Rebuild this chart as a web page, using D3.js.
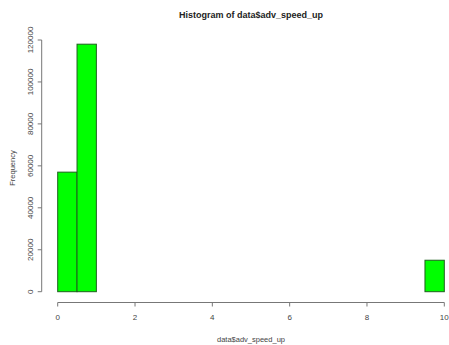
<!DOCTYPE html>
<html>
<head>
<meta charset="utf-8">
<script src="https://cdn.jsdelivr.net/npm/d3@7"></script>
<style>
  body { margin: 0; background: #fff; }
  svg { display: block; font-family: "Liberation Sans", Arial, sans-serif; }
</style>
</head>
<body>
<svg width="449" height="345"></svg>
<script>
// histogram bins (width 0.5) and their counts
var binStarts = [0, 0.5, 1, 1.5, 2, 2.5, 3, 3.5, 4, 4.5, 5, 5.5, 6, 6.5, 7, 7.5, 8, 8.5, 9, 9.5];
var counts = [57000, 118000, 0, 0, 0, 0, 0, 0, 0, 0, 0, 0, 0, 0, 0, 0, 0, 0, 0, 15000];
var binWidth = 0.5;
var xTicks = [0, 2, 4, 6, 8, 10];
var yTicks = [0, 20000, 40000, 60000, 80000, 100000, 120000];

var svg = d3.select("svg");
var x = d3.scaleLinear().domain([0, 10]).range([57.7, 444.3]);
var y = d3.scaleLinear().domain([0, 120000]).range([291.7, 40]);

var bins = binStarts.map(function(s, i) { return {x0: s, x1: s + binWidth, n: counts[i]}; });

svg.selectAll("rect.bar")
  .data(bins)
  .enter()
  .append("rect")
  .attr("class", "bar")
  .attr("x", d => x(d.x0))
  .attr("width", d => x(d.x1) - x(d.x0))
  .attr("y", d => y(d.n))
  .attr("height", d => y(0) - y(d.n))
  .style("fill", "#00ff00")
  .style("stroke", d => d.n > 0 ? "#1f5f1f" : "#a0a0a0")
  .style("stroke-width", d => d.n > 0 ? 1 : 1.3);

// x axis
var xAxis = svg.append("g").attr("transform", "translate(0,302.5)");
xAxis.append("line")
  .attr("x1", x(0)).attr("x2", x(10))
  .style("stroke", "#777");
xAxis.selectAll("line.tick")
  .data(xTicks).enter().append("line")
  .attr("class", "tick")
  .attr("x1", d => x(d)).attr("x2", d => x(d))
  .attr("y1", 0).attr("y2", 4)
  .style("stroke", "#777");
xAxis.selectAll("text")
  .data(xTicks).enter().append("text")
  .attr("x", d => x(d)).attr("y", 17.5)
  .attr("text-anchor", "middle")
  .style("font-size", "8px").style("fill", "#444")
  .text(d => d);

// y axis
var yAxis = svg.append("g").attr("transform", "translate(41.7,0)");
yAxis.append("line")
  .attr("y1", y(0)).attr("y2", y(120000))
  .style("stroke", "#777");
yAxis.selectAll("line.tick")
  .data(yTicks).enter().append("line")
  .attr("class", "tick")
  .attr("y1", d => y(d)).attr("y2", d => y(d))
  .attr("x1", -4).attr("x2", 0)
  .style("stroke", "#777");
yAxis.selectAll("text")
  .data(yTicks).enter().append("text")
  .attr("transform", d => "translate(-9," + y(d) + ") rotate(-90)")
  .attr("text-anchor", "middle")
  .style("font-size", "8px").style("fill", "#444")
  .text(d => d);

// titles
svg.append("text")
  .attr("x", 251).attr("y", 18)
  .attr("text-anchor", "middle")
  .style("font-size", "9px").style("font-weight", "bold").style("fill", "#222")
  .text("Histogram of data$adv_speed_up");
svg.append("text")
  .attr("x", 251).attr("y", 341.5)
  .attr("text-anchor", "middle")
  .style("font-size", "7.5px").style("fill", "#444")
  .text("data$adv_speed_up");
svg.append("text")
  .attr("transform", "translate(15,168) rotate(-90)")
  .attr("text-anchor", "middle")
  .style("font-size", "7.5px").style("fill", "#444")
  .text("Frequency");
</script>
</body>
</html>
